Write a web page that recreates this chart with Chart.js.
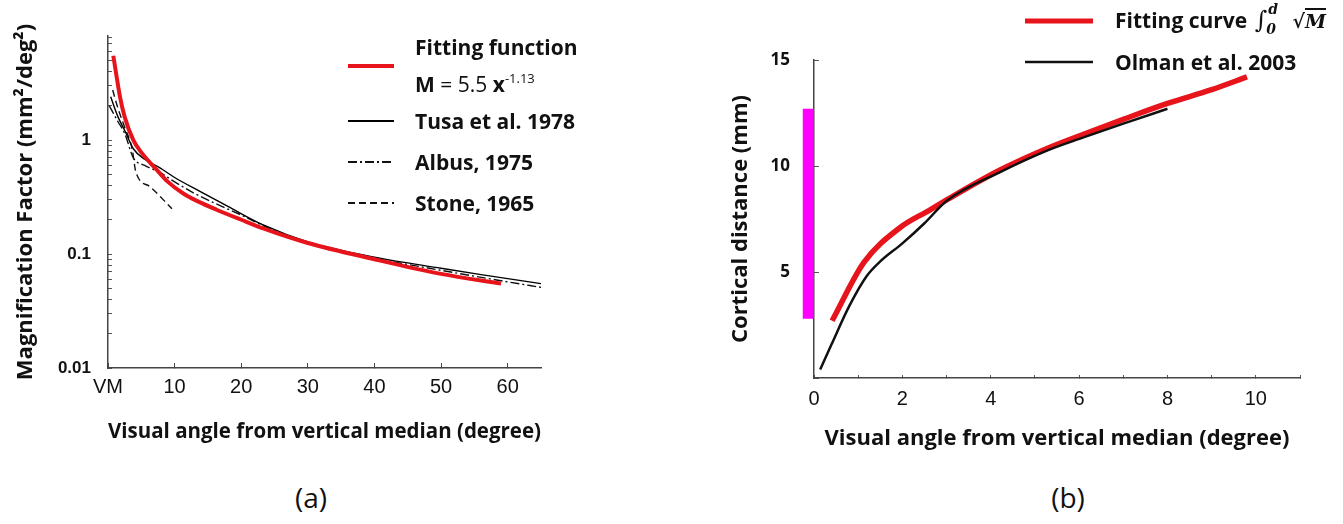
<!DOCTYPE html>
<html>
<head>
<meta charset="utf-8">
<script src="https://cdn.jsdelivr.net/npm/chart.js@4/dist/chart.umd.min.js"></script>
<style>
  body { margin: 0; width: 1343px; height: 524px; background: #fff; position: relative; overflow: hidden; font-family: "Open Sans", sans-serif; color: #111; }
  #chartA { position: absolute; left: 0; top: 0; }
  #chartB { position: absolute; left: 720px; top: 0; }
  .legend { position: absolute; font-family: "Open Sans", sans-serif; font-weight: bold; font-size: 21px; color: #111; }
  .row { display: flex; align-items: center; height: 34px; white-space: nowrap; }
  .row svg { flex: none; }
  .row .txt { line-height: 31px; }
  .thin { font-weight: normal; }
  sup.pow { font-size: 13px; font-weight: normal; vertical-align: 9px; }
  .math { font-family: "DejaVu Serif", serif; font-style: italic; font-weight: bold; font-size: 19px; margin-left: 2px; }
  .int { font-size: 24px; font-weight: normal; }
  .lim { display: inline-block; position: relative; width: 12px; height: 10px; font-size: 14px; }
  .lim span { position: absolute; left: 1px; line-height: 14px; }
  .lim .up { top: -16px; }
  .lim .dn { top: 4px; left: -1px; }
  .ov { border-top: 2px solid #111; padding-top: 0; }
  .caption { position: absolute; top: 478px; font-family: "Open Sans", sans-serif; font-size: 28px; transform: translateX(-50%); }
</style>
</head>
<body>
<canvas id="chartA" width="660" height="452"></canvas>
<canvas id="chartB" width="623" height="460"></canvas>
<div class="legend" id="legendA" style="left:348px; top:35px;"></div>
<div class="legend" id="legendB" style="left:1025px; top:4px;"></div>
<div class="caption" style="left:311px;">(a)</div>
<div class="caption" style="left:1068px;">(b)</div>
<script>
// ---- panel (a): magnification factor vs visual angle ----
var fitAngle = [0.8, 1.2, 1.8, 2.5, 3.8, 5, 7.3, 9, 11.3, 13.5, 16.3, 20, 23.3, 30, 40, 50, 59];
var fitM     = [5.5, 3.9, 2.4, 1.6, 1.0, 0.78, 0.55, 0.43, 0.34, 0.29, 0.245, 0.2, 0.168, 0.125, 0.09, 0.067, 0.055];

var tusaAngle = [0.4, 1.5, 2.5, 3.8, 5.5, 7.8, 10, 13.8, 18, 23.3, 30, 40, 50, 56, 65];
var tusaM     = [2.4, 1.6, 1.22, 0.84, 0.68, 0.57, 0.47, 0.355, 0.262, 0.18, 0.128, 0.094, 0.075, 0.066, 0.055];

var albusAngle = [0.2, 1.5, 2.5, 3.8, 5.5, 7.8, 10, 13, 16, 20, 24, 30, 40, 50, 60, 65];
var albusM     = [2.0, 1.45, 1.15, 0.7, 0.6, 0.52, 0.43, 0.34, 0.28, 0.22, 0.17, 0.126, 0.092, 0.072, 0.057, 0.051];

var stoneAngle = [0.7, 1.5, 2.5, 3.6, 4.2, 6.3, 9.6];
var stoneM     = [2.75, 1.9, 1.3, 0.85, 0.52, 0.39, 0.25];

var seriesA = ['Fitting function', 'Tusa et al. 1978', 'Albus, 1975', 'Stone, 1965'];
var xTicksA = [0, 10, 20, 30, 40, 50, 60];
var yTicksA = [0.01, 0.02, 0.03, 0.04, 0.05, 0.06, 0.07, 0.08, 0.09,
               0.1, 0.2, 0.3, 0.4, 0.5, 0.6, 0.7, 0.8, 0.9,
               1, 2, 3, 4, 5, 6, 7, 8];
var yLabelsA = [0.01, 0.1, 1];

// ---- panel (b): cortical distance ----
var fitDistAngle = [0.41, 1.13, 1.95, 2.6, 3.0, 4.2, 5.3, 6.1, 7.0, 8.0, 9.0, 9.8];
var fitDist      = [2.7, 5.45, 7.1, 7.9, 8.4, 9.8, 10.85, 11.5, 12.2, 12.95, 13.6, 14.2];

var olmanAngle = [0.14, 0.4, 0.8, 1.19, 1.5, 2.0, 2.5, 3.0, 4.2, 5.3, 6.1, 7.0, 8.0];
var olmanDist  = [0.4, 1.6, 3.4, 4.8, 5.5, 6.35, 7.3, 8.35, 9.7, 10.75, 11.35, 12.0, 12.7];

var barAngle = [-0.13, -0.13];
var barDist  = [2.8, 12.7];

var seriesB = ['Fitting curve', 'Olman et al. 2003'];
var xTicksB = [0, 1, 2, 3, 4, 5, 6, 7, 8, 9, 10, 11];
var yTicksB = [0, 5, 10, 15];

var RED = '#e8141c';
var TITLE_FONT = { family: 'Open Sans', weight: 'bold', size: 22 };

function toPoints(xs, ys) {
    return xs.map(function (x, i) { return { x: x, y: ys[i] }; });
}

function lineSet(label, xs, ys, color, width, dash) {
    return {
        label: label,
        data: toPoints(xs, ys),
        borderColor: color,
        borderWidth: width,
        borderDash: dash || [],
        pointRadius: 0,
        fill: false,
        cubicInterpolationMode: 'monotone'
    };
}

var chartA = new Chart(document.getElementById('chartA'), {
    type: 'line',
    data: {
        datasets: [
            lineSet(seriesA[0], fitAngle, fitM, RED, 4),
            lineSet(seriesA[1], tusaAngle, tusaM, '#000', 1.4),
            lineSet(seriesA[2], albusAngle, albusM, '#111', 1.4, [9, 3, 2, 3]),
            lineSet(seriesA[3], stoneAngle, stoneM, '#111', 1.4, [7, 4])
        ]
    },
    options: {
        responsive: false,
        animation: false,
        devicePixelRatio: 1,
        layout: { padding: { top: 36, right: 119, left: 0, bottom: 0 } },
        plugins: { legend: { display: false }, tooltip: { enabled: false } },
        scales: {
            x: {
                type: 'linear', min: 0, max: 65,
                afterBuildTicks: function (s) { s.ticks = xTicksA.map(function (v) { return { value: v }; }); },
                afterFit: function (s) { s.height = 84; },
                ticks: {
                    callback: function (v) { return v === 0 ? 'VM' : v; },
                    font: { family: 'Liberation Sans', size: 20 }, color: '#111',
                    padding: 12, maxRotation: 0, autoSkip: false
                },
                grid: { drawOnChartArea: false, tickLength: -5, color: '#444' },
                border: { color: '#444', width: 1.5 },
                title: {
                    display: true, text: 'Visual angle from vertical median (degree)',
                    font: TITLE_FONT, color: '#111',
                    padding: { bottom: 7 }
                }
            },
            y: {
                type: 'logarithmic', min: 0.01, max: 8.2,
                afterBuildTicks: function (s) { s.ticks = yTicksA.map(function (v) { return { value: v }; }); },
                afterFit: function (s) { s.width = 108; },
                ticks: {
                    callback: function (v) { return yLabelsA.indexOf(v) >= 0 ? String(v) : ''; },
                    font: { family: 'Liberation Sans', weight: 'bold', size: 17 }, color: '#111',
                    padding: 21, autoSkip: false
                },
                grid: { drawOnChartArea: false, tickLength: -4, color: '#555' },
                border: { color: '#444', width: 1.5 },
                title: {
                    display: true, text: 'Magnification Factor (mm²/deg²)',
                    font: TITLE_FONT, color: '#111',
                    padding: { top: 13 }
                }
            }
        }
    }
});

var magentaBar = lineSet('', barAngle, barDist, '#ff00ff', 11);
magentaBar.borderCapStyle = 'butt';
magentaBar.clip = false;
magentaBar.cubicInterpolationMode = 'default';
magentaBar.order = 2;

var olmanSet = lineSet(seriesB[1], olmanAngle, olmanDist, '#111', 2.5);
olmanSet.order = 0;
var fitSetB = lineSet(seriesB[0], fitDistAngle, fitDist, RED, 5.5);
fitSetB.order = 1;

var chartB = new Chart(document.getElementById('chartB'), {
    type: 'line',
    data: { datasets: [fitSetB, olmanSet, magentaBar] },
    options: {
        responsive: false,
        animation: false,
        devicePixelRatio: 1,
        layout: { padding: { top: 60, right: 43, left: 0, bottom: 0 } },
        plugins: { legend: { display: false }, tooltip: { enabled: false } },
        scales: {
            x: {
                type: 'linear', min: 0, max: 11,
                afterBuildTicks: function (s) { s.ticks = xTicksB.map(function (v) { return { value: v }; }); },
                afterFit: function (s) { s.height = 82; },
                ticks: {
                    callback: function (v) { return (v % 2 === 0 && v <= 10) ? v : ''; },
                    font: { family: 'Liberation Sans', size: 20 }, color: '#111',
                    padding: 12, maxRotation: 0, autoSkip: false
                },
                grid: { drawOnChartArea: false, tickLength: -3, color: '#555' },
                border: { color: '#444', width: 1.5 },
                title: {
                    display: true, text: 'Visual angle from vertical median (degree)',
                    font: TITLE_FONT, color: '#111',
                    padding: { bottom: 8 }
                }
            },
            y: {
                type: 'linear', min: 0, max: 15,
                afterBuildTicks: function (s) { s.ticks = yTicksB.map(function (v) { return { value: v }; }); },
                afterFit: function (s) { s.width = 94; },
                ticks: {
                    callback: function (v) { return v === 0 ? '' : v; },
                    font: { family: 'Open Sans', weight: 'bold', size: 17 }, color: '#111',
                    padding: 29, autoSkip: false
                },
                grid: { drawOnChartArea: false, tickLength: -5, color: '#555' },
                border: { color: '#444', width: 1.5 },
                title: {
                    display: true, text: 'Cortical distance (mm)',
                    font: TITLE_FONT, color: '#111',
                    padding: { top: 8 }
                }
            }
        }
    }
});

// html legends built from the datasets (line swatches + labels)
function swatch(ds, w) {
    var dash = (ds.borderDash || []).join(' ');
    return '<svg width="' + w + '" height="12"><line x1="0" y1="6" x2="' + w + '" y2="6" stroke="' + ds.borderColor +
        '" stroke-width="' + ds.borderWidth + '" stroke-dasharray="' + dash + '"/></svg>';
}

function buildLegend(chart, id, swW, gap, extra) {
    var html = '';
    chart.data.datasets.forEach(function (ds, i) {
        if (!ds.label) return;
        var ex = extra[i] || {};
        var txt = ex.html || ds.label;
        var style = i > 0 && gap ? 'margin-top:' + gap + 'px;' : '';
        if (ex.height) style += 'height:' + ex.height + 'px;';
        var sw = Object.assign({}, ds, { borderWidth: Math.max(2, Math.min(ds.borderWidth, 5)) });
        html += '<div class="row" style="' + style + '">' + swatch(sw, swW) +
            '<div class="txt" style="margin-left:' + ex.ml + 'px">' + txt + '</div></div>';
    });
    document.getElementById(id).innerHTML = html;
}

buildLegend(chartA, 'legendA', 46, 7, {
    0: { ml: 21, height: 62, html: seriesA[0] + '<br><span>M</span> <span class="thin">= 5.5</span> x<sup class="pow">-1.13</sup>' },
    1: { ml: 21 }, 2: { ml: 21 }, 3: { ml: 21 }
});

buildLegend(chartB, 'legendB', 68, 7, {
    0: { ml: 22, html: seriesB[0] + ' <span class="math"><span class="int">∫</span><span class="lim"><span class="up">d</span><span class="dn">0</span></span>&nbsp;&nbsp;√<span class="ov">M</span></span>' },
    1: { ml: 22 }
});
</script>
</body>
</html>
